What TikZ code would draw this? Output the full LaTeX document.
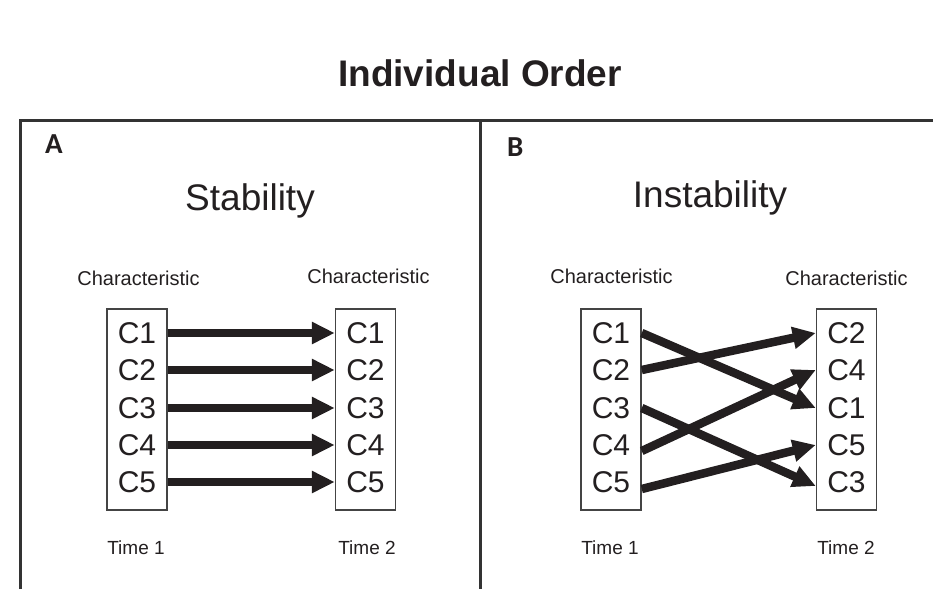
\documentclass[tikz,border=0pt]{standalone}
\usepackage{fontspec}
\setmainfont{Liberation Sans}
\newfontfamily\labfont{Carlito}
\usetikzlibrary{arrows.meta}
\definecolor{ink}{HTML}{231F20}
\definecolor{framec}{HTML}{333333}
\definecolor{boxc}{HTML}{444444}
\begin{document}
\begin{tikzpicture}[x=1pt,y=-1pt,
  txt/.style={text=ink, inner sep=0pt, anchor=base},
  title/.style={txt, font=\fontsize{37}{40}\selectfont\bfseries},
  panel/.style={txt, anchor=base west, font=\labfont\fontsize{29}{32}\selectfont\bfseries},
  head/.style={txt, font=\fontsize{37}{40}\selectfont},
  charlab/.style={txt, font=\fontsize{20}{22}\selectfont},
  timelab/.style={txt, font=\fontsize{19}{21}\selectfont},
  cbox/.style={draw=boxc, line width=1.5pt, minimum width=60pt, minimum height=201pt, inner sep=0pt},
  clab/.style={text=ink, inner sep=0pt, font=\fontsize{30}{32}\selectfont},
  frameline/.style={draw=framec, line width=3pt},
  arr/.style={draw=ink, line width=8.5pt, -{Triangle[length=23pt,width=21pt]}}
]
\useasboundingbox (0,0) rectangle (933,589);
% frame
\draw[frameline] (20,589) -- (20,120) -- (933,120);
\draw[frameline] (480,120) -- (480,589);
% titles
\node[title] (t) at (480,86) {Individual Order};
\node[panel] (pa) at (45,153) {A};
\node[panel] (pb) at (507,156) {B};
\node[head] (hs) at (250,210) {Stability};
\node[head] (hi) at (710,207) {Instability};
\node[charlab] (ca1) at (138.5,285) {Characteristic};
\node[charlab] (ca2) at (368.5,283) {Characteristic};
\node[charlab] (cb1) at (611.5,283) {Characteristic};
\node[charlab] (cb2) at (846.5,285) {Characteristic};
\node[timelab] (ta1) at (136,554) {Time 1};
\node[timelab] (ta2) at (367,554) {Time 2};
\node[timelab] (tb1) at (610,554) {Time 1};
\node[timelab] (tb2) at (846,554) {Time 2};
% boxes
\node[cbox] (LA) at (137,409.5) {};
\node[cbox] (RA) at (365.5,409.5) {};
\node[cbox] (LB) at (611,409.5) {};
\node[cbox] (RB) at (846.5,409.5) {};
% labels
\foreach \i/\y in {1/333,2/370,3/408,4/445,5/482}{
  \node[clab] (LA\i) at (137,\y) {C\i};
  \node[clab] (RA\i) at (365.5,\y) {C\i};
  \node[clab] (LB\i) at (611,\y) {C\i};
}
\node[clab] (RB2) at (846.5,333) {C2};
\node[clab] (RB4) at (846.5,370) {C4};
\node[clab] (RB1) at (846.5,408) {C1};
\node[clab] (RB5) at (846.5,445) {C5};
\node[clab] (RB3) at (846.5,482) {C3};
% arrows panel A
\foreach \i in {1,...,5}{
  \draw[arr] (LA\i -| LA.east) -- (RA\i -| RA.west);
}
% arrows panel B
\draw[arr] (LB1 -| LB.east) -- (RB1 -| RB.west);
\draw[arr] (LB2 -| LB.east) -- (RB2 -| RB.west);
\draw[arr] (LB3 -| LB.east) -- ([yshift=-4pt]RB3 -| RB.west);
\draw[arr] ([yshift=-6pt]LB4 -| LB.east) -- (RB4 -| RB.west);
\draw[arr] ([yshift=-7pt]LB5 -| LB.east) -- (RB5 -| RB.west);
\end{tikzpicture}
\end{document}
